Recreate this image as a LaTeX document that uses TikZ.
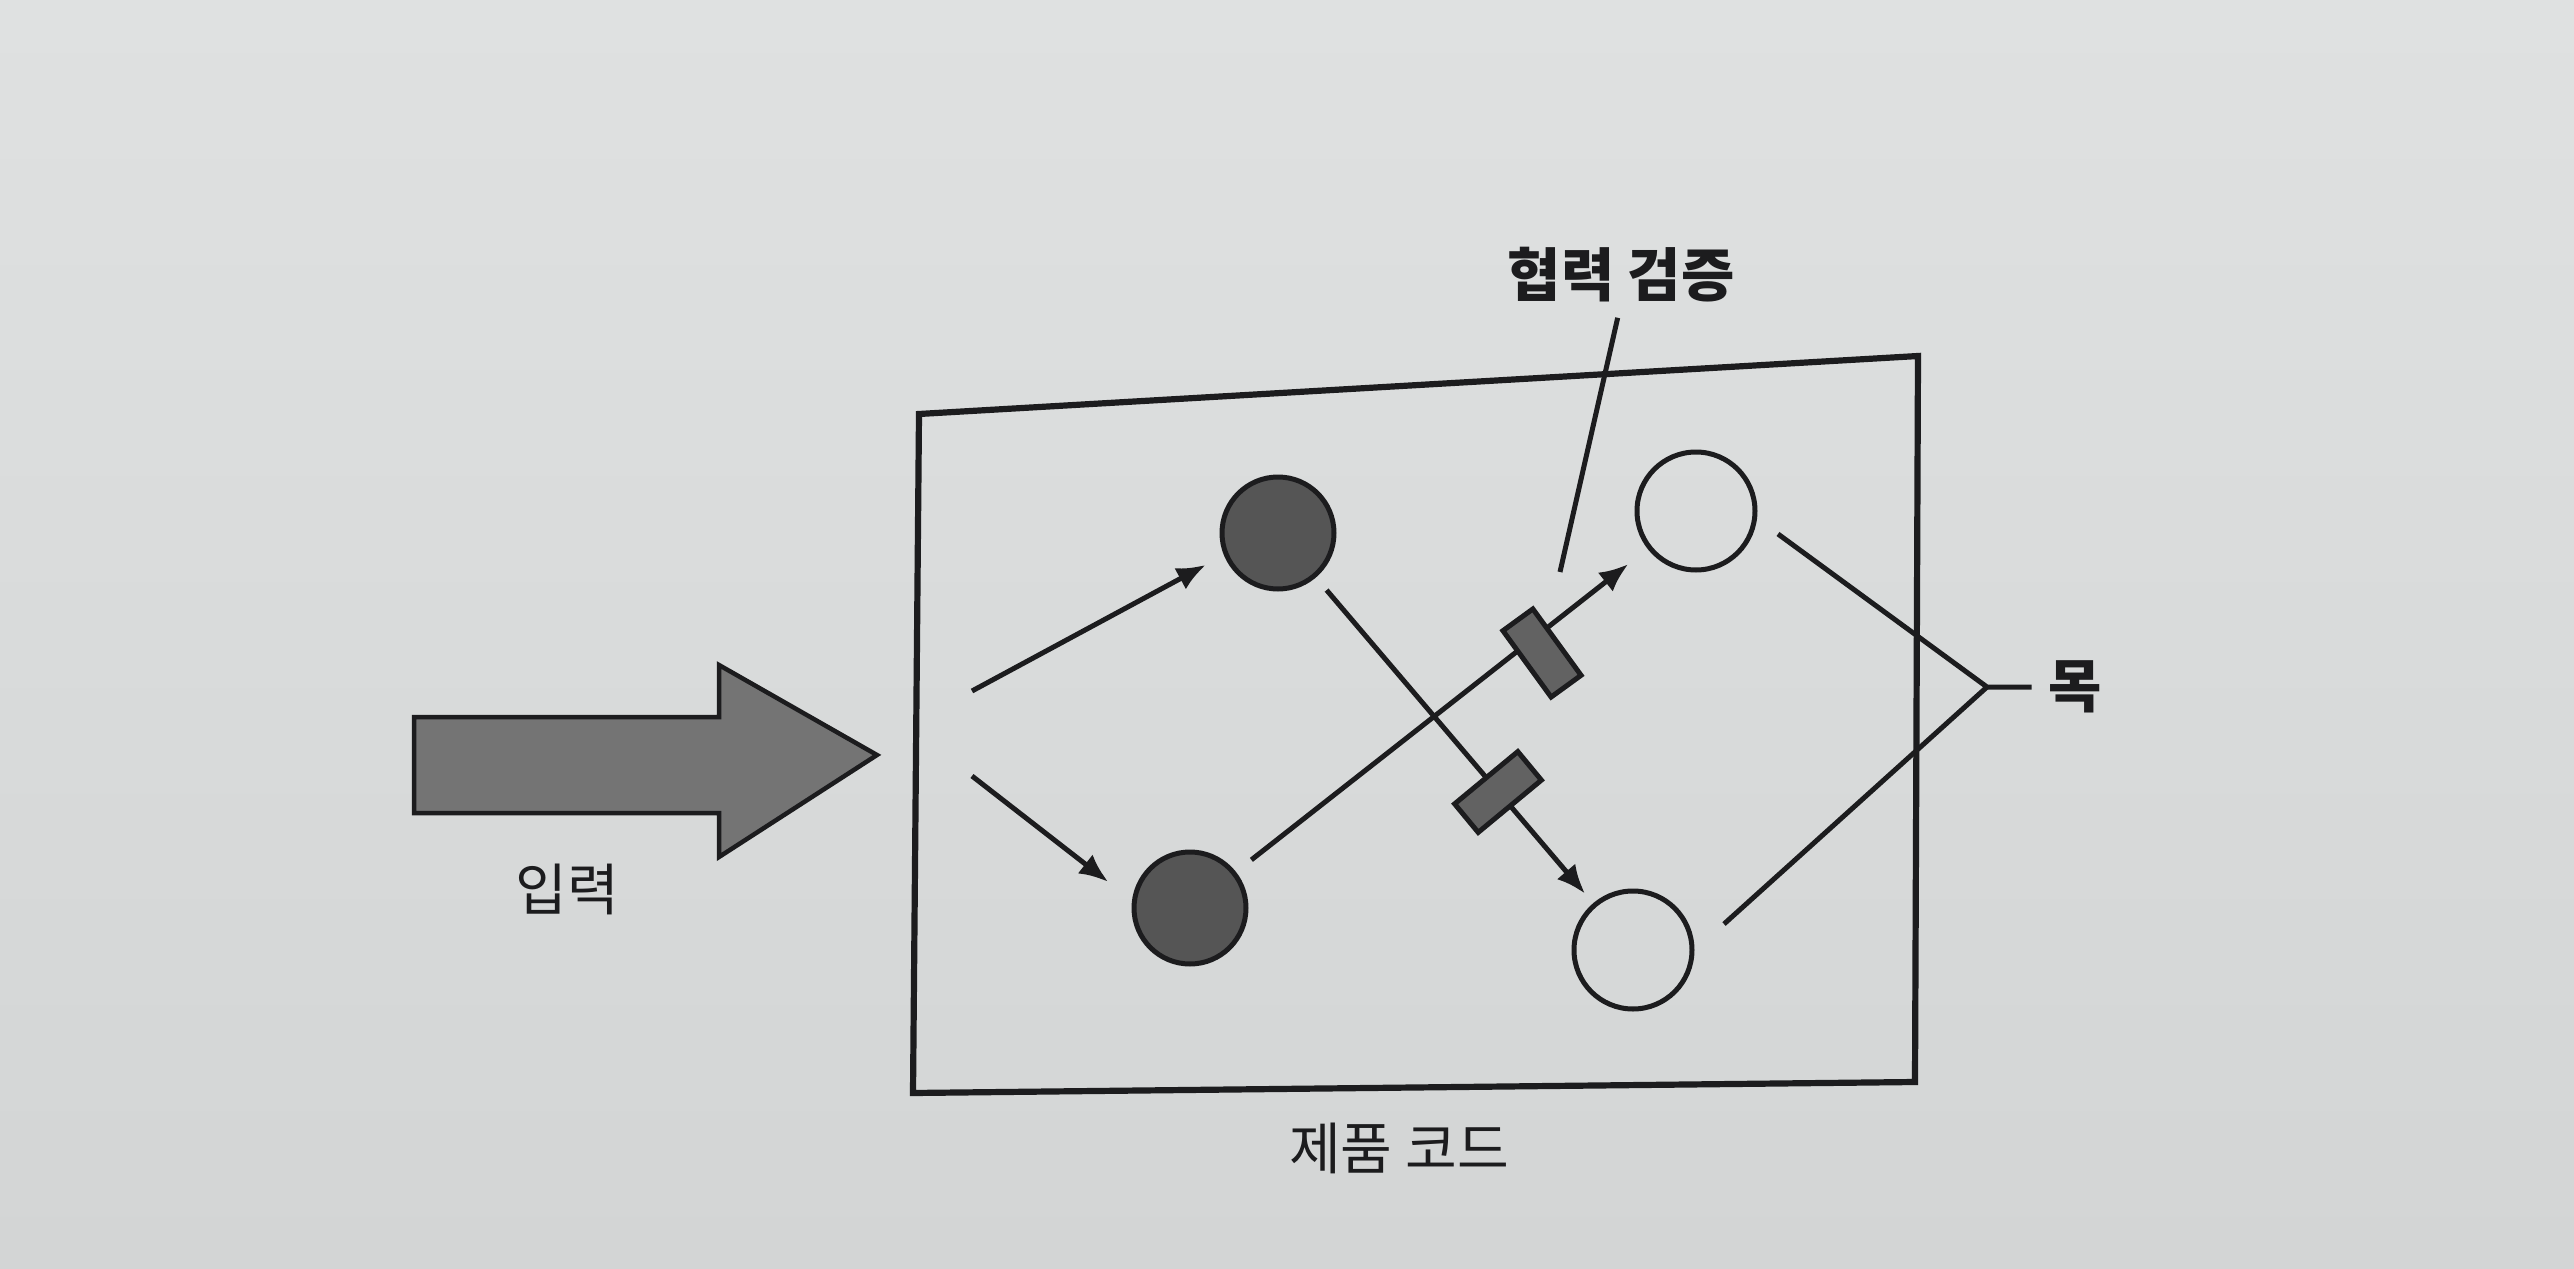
\documentclass[tikz,border=0pt]{standalone}
\usepackage{fontspec}
\newfontfamily\kr{Noto Sans CJK KR}
\usetikzlibrary{arrows.meta}
\definecolor{bgtop}{HTML}{DFE1E1}
\definecolor{bgbot}{HTML}{D3D5D5}
\definecolor{ink}{HTML}{1C1C1E}
\definecolor{darkfill}{HTML}{555555}
\definecolor{arrowfill}{HTML}{747474}
\definecolor{rectfill}{HTML}{626262}
\begin{document}
\begin{tikzpicture}[x=0.1mm,y=-0.1mm,
  ln/.style={draw=ink,line width=0.5mm},
  arr/.style={ln,-{Latex[length=2.9mm,width=2.4mm]}},
  darkdot/.style={circle,draw=ink,line width=0.5mm,fill=darkfill,minimum size=11.2mm,inner sep=0pt,outer sep=0pt},
  whitedot/.style={circle,draw=ink,line width=0.5mm,minimum size=11.8mm,inner sep=0pt,outer sep=0pt},
  gate/.style={rectangle,draw=ink,line width=0.5mm,fill=rectfill,minimum width=8.2mm,minimum height=3.7mm,inner sep=0pt},
  lbl/.style={font=\kr\fontsize{16}{18}\selectfont,text=ink,inner sep=0pt},
  lblb/.style={font=\kr\bfseries\fontsize{16.5}{18}\selectfont,text=ink,inner sep=0pt}
]
\fill[top color=bgtop,bottom color=bgbot] (0,0) rectangle (2574,1269);
\useasboundingbox (0,0) rectangle (2574,1269);

% frame (product code)
\coordinate (bTL) at (919,414);
\coordinate (bTR) at (1918,356);
\coordinate (bBR) at (1915,1082);
\coordinate (bBL) at (913,1093);
\draw[ink,line width=0.62mm,line join=miter] (bTL) -- (bTR) -- (bBR) -- (bBL) -- cycle;

% big input arrow
\draw[ink,line width=0.45mm,fill=arrowfill,line join=miter]
  (414,717) -- (719,717) -- (719,665) -- (877,755) -- (719,857) -- (719,813) -- (414,813) -- cycle;

% objects
\node[darkdot] (d1) at (1278,533) {};
\node[darkdot] (d2) at (1190,908) {};
\node[whitedot] (w1) at (1696,511) {};
\node[whitedot] (w2) at (1633,950) {};

\coordinate (s1) at (972,691);
\coordinate (s2) at (972,776);
\draw[arr,shorten >=2.3mm] (s1) -- (d1.202);
\draw[arr,shorten >=3.3mm] (s2) -- (d2.174);
\draw[arr,shorten <=2.2mm,shorten >=2.7mm] (d2) -- (w1);
\draw[arr,shorten <=1.9mm,shorten >=1.5mm] (d1) -- (w2);

% collaboration checks
\node[gate,rotate=-54] (g1) at (1542,653) {};
\node[gate,rotate=39.6] (g2) at (1498,792) {};

% labels
\node[lblb] (coop) at (1621,275) {협력 검증};
\coordinate (cend) at (1560,572);
\draw[ln,shorten <=1.5mm] (coop.south) -- (cend);

\node[lblb] (mok) at (2075,687) {목};
\coordinate (j) at (1987,687);
\coordinate (m1) at (1778,534);
\coordinate (m2) at (1724,924);
\draw[ln,shorten >=1.6mm] (m1) -- (j) -- (mok.west);
\draw[ln] (m2) -- (j);

\node[lbl] (inp) at (567,889) {입력};
\node[lbl] (prod) at (1399,1148) {제품 코드};
\end{tikzpicture}
\end{document}
